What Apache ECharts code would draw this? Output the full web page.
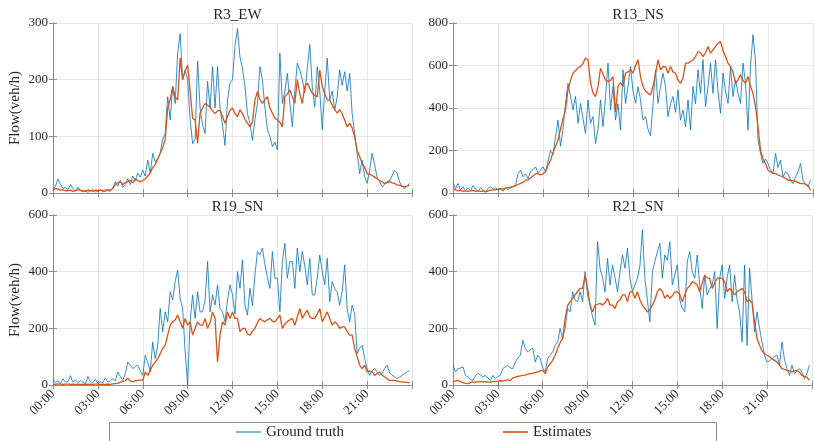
<!DOCTYPE html>
<html>
<head>
<meta charset="utf-8">
<script src="https://cdn.jsdelivr.net/npm/echarts@6/dist/echarts.min.js"></script>
<style>html,body{margin:0;padding:0;background:#fff}#c{width:814px;height:441px}</style>
</head>
<body>
<div id="c"></div>
<script>
// 10-minute samples, 00:00 .. 23:50 (144 values each)
const titles = ['R3_EW', 'R13_NS', 'R19_SN', 'R21_SN'];
const yMax = [300, 800, 600, 600];
const yStep = [100, 200, 200, 200];
const tickHours = [0, 3, 6, 9, 12, 15, 18, 21];

const gtR3 = [
5,12,25,15,8,10, 6,15,8,3,10,4, 2,5,1,4,6,2, 3,5,2,6,4,3,
8,20,12,22,10,15, 25,15,30,22,35,28, 40,30,58,35,70,55, 60,70,95,105,170,129,
188,158,247,281,200,217, 200,130,87,95,233,150, 120,105,197,150,223,150, 223,150,120,84,164,194,
200,260,290,240,220,188, 140,123,93,130,158,223, 200,150,112,100,82,90, 76,247,158,180,211,160,
117,180,229,217,200,176, 220,262,188,152,223,180, 112,180,238,164,180,146, 170,217,190,214,180,211,
140,105,70,34,58,30, 17,40,70,50,28,20, 11,15,20,22,30,40, 35,20,11,8,12,17];
const estR3 = [
5,8,7,5,6,4, 4,5,3,4,6,5, 4,3,5,4,3,5, 4,5,4,3,6,5,
8,15,18,20,15,18, 20,22,18,25,22,20, 22,25,30,35,45,50, 60,70,80,95,150,165,
188,170,164,238,200,215, 226,180,132,129,88,141, 150,158,155,152,145,140, 145,146,135,123,135,146,
150,140,135,147,140,130, 123,117,125,164,179,165, 158,165,170,150,141,132, 129,125,117,170,175,182,
170,158,200,175,158,188, 194,185,176,172,170,217, 188,175,164,164,155,147, 141,147,140,129,117,123,
115,99,75,64,52,46, 34,33,31,28,25,22, 20,17,18,20,18,17, 14,14,12,11,12,14];

const gtR13 = [
50,20,45,15,30,10, 25,12,35,18,8,25, 15,5,22,30,18,25, 15,20,8,25,15,30,
30,35,90,107,76,90, 68,100,110,123,95,107, 123,100,150,200,180,265, 343,220,300,422,516,454,
391,454,328,422,350,280, 438,328,360,233,300,438, 312,450,611,391,501,343, 420,296,580,422,500,595,
480,422,500,438,343,360, 300,270,420,580,422,500, 564,501,359,420,454,380, 485,343,391,312,438,296,
501,420,580,469,627,406, 500,611,469,627,480,375, 564,480,422,595,454,532, 470,422,611,520,296,600,
745,620,250,186,139,160, 139,110,91,186,120,154, 76,100,91,60,44,76, 100,139,60,40,28,60];
const estR13 = [
20,15,10,12,8,10, 8,10,12,8,10,8, 10,5,10,12,15,15, 18,20,18,22,25,25,
30,35,40,45,50,60, 62,70,80,90,92,85, 90,100,130,154,190,220, 249,300,350,391,485,530,
564,575,590,595,610,635, 627,520,470,454,501,587, 560,532,524,530,548,380, 501,520,501,564,570,580,
564,600,627,548,501,480, 469,461,501,560,627,580, 595,595,564,595,570,564, 532,516,540,611,611,620,
627,642,666,660,642,660, 690,658,674,690,705,713, 670,642,611,595,570,516, 532,556,530,516,548,501,
469,406,312,203,160,139, 107,100,91,91,85,80, 76,70,60,60,58,55, 50,44,44,42,35,13];

const gtR19 = [
20,8,15,5,22,10, 12,33,10,18,8,15, 10,5,30,12,8,20, 5,12,8,25,10,15,
22,15,46,30,16,40, 81,70,58,65,70,50, 34,105,80,46,152,93, 140,270,188,258,223,329,
300,365,406,306,270,120, 0,223,318,235,329,258, 258,300,436,258,318,282, 353,270,258,223,300,353,
318,250,400,341,441,282, 247,341,280,388,471,459, 483,424,380,341,471,377, 377,258,436,500,377,436,
436,341,483,400,471,420, 353,447,318,318,377,459, 400,353,447,294,365,340, 329,282,330,424,270,223,
282,250,110,130,140,93, 58,34,50,58,45,34, 40,58,70,45,34,30, 22,28,34,40,46,50];
const estR19 = [
3,2,4,3,2,3, 3,2,3,2,3,2, 2,3,2,3,2,3, 3,2,3,2,3,2,
4,5,6,10,12,15, 24,14,11,15,16,18, 16,46,34,50,70,81, 93,110,129,140,176,211,
223,230,247,223,200,235, 211,223,176,200,223,211, 211,235,200,220,258,235, 81,176,223,211,258,235,
258,235,235,188,200,200, 180,176,190,200,220,235, 228,223,230,235,225,223, 235,247,200,215,223,230,
235,211,240,270,235,250, 264,240,235,235,250,270, 223,240,258,235,211,223, 215,200,205,205,188,176,
176,129,100,70,58,70, 46,50,46,34,40,46, 35,28,22,16,16,16, 14,12,11,10,9,8];

const gtR21 = [
70,46,58,60,64,34, 28,20,16,34,40,36, 28,34,25,16,34,22, 30,34,58,64,70,60,
58,81,95,105,158,129, 117,125,129,81,105,93, 60,46,93,105,117,140, 152,200,164,200,270,258,
329,300,294,329,294,400, 318,282,240,211,506,412, 380,329,447,353,424,380, 329,400,459,412,483,377,
330,353,377,420,548,377, 300,223,400,436,470,500, 377,459,440,506,353,388, 424,300,270,258,436,471,
400,377,459,350,270,388, 318,340,353,400,200,377, 424,306,380,424,294,388, 300,258,152,424,140,412,
300,188,258,200,150,105, 81,85,93,100,105,70, 152,90,58,34,70,40, 50,58,45,22,40,70];
const estR21 = [
11,14,16,12,8,6, 5,8,11,10,11,12, 11,12,11,10,12,13, 13,15,14,16,18,16,
25,28,30,32,34,35, 38,40,42,44,46,50, 52,40,64,75,87,105, 129,150,164,235,280,294,
306,318,330,341,341,388, 341,282,258,282,285,288, 282,290,306,282,282,270, 294,300,318,318,294,329,
329,306,329,300,282,270, 258,265,282,300,329,341, 330,306,318,306,315,329, 329,320,294,320,341,350,
365,360,353,329,360,388, 377,377,341,360,377,377, 377,365,329,341,330,318, 329,335,341,329,294,300,
290,223,164,140,120,111, 105,100,93,87,81,70, 58,55,52,50,46,50, 52,45,34,30,28,16];

const groundTruth = [gtR3, gtR13, gtR19, gtR21];
const estimates = [estR3, estR13, estR19, estR21];

// sample time (hours) for each index
const sampleHours = gtR3.map((_, i) => i / 6);
const pairs = arr => arr.map((v, i) => [sampleHours[i], v]);

const FONT = 'Liberation Serif';
const TXT = '#262626';
const AX = '#8c8c8c';
const GRIDC = '#e6e6e6';
const BLUE = '#0072BD';
const ORANGE = '#D95319';

const grids = [
  {left: 53, top: 23, width: 359, height: 170},
  {left: 453, top: 23, width: 360, height: 170},
  {left: 53, top: 215, width: 359, height: 170},
  {left: 453, top: 215, width: 360, height: 170}
];

const pad = h => (h < 10 ? '0' : '') + h + ':00';

const xAxes = [], yAxes = [], series = [], titleArr = [];
for (let g = 0; g < 4; g++) {
  const bottomRow = g >= 2;
  xAxes.push({
    type: 'value', gridIndex: g, min: 0, max: 24, interval: 3,
    axisLine: {show: true, lineStyle: {color: AX, width: 1}},
    axisTick: {show: true, inside: true, length: 4, lineStyle: {color: AX}},
    splitLine: {show: true, lineStyle: {color: GRIDC, width: 1}},
    axisLabel: {
      show: bottomRow, rotate: 45, margin: 7,
      fontFamily: FONT, fontSize: 13, color: TXT,
      formatter: v => (tickHours.indexOf(v) >= 0 ? pad(v) : '')
    }
  });
  yAxes.push({
    type: 'value', gridIndex: g, min: 0, max: yMax[g], interval: yStep[g],
    name: (g % 2 === 0) ? 'Flow(veh/h)' : '',
    nameLocation: 'middle', nameGap: 30,
    nameTextStyle: {fontFamily: FONT, fontSize: 15, color: TXT},
    axisLine: {show: true, lineStyle: {color: AX, width: 1}},
    axisTick: {show: true, inside: true, length: 4, lineStyle: {color: AX}},
    splitLine: {show: true, lineStyle: {color: GRIDC, width: 1}},
    axisLabel: {fontFamily: FONT, fontSize: 13, color: TXT, margin: 5}
  });
  titleArr.push({
    text: titles[g],
    left: grids[g].left + grids[g].width / 2,
    top: grids[g].top - 20,
    textAlign: 'center',
    textStyle: {fontFamily: FONT, fontSize: 15, fontWeight: 'normal', color: TXT}
  });
}
// mirrored axes for the box ticks on top and right
for (let g = 0; g < 4; g++) {
  xAxes.push({
    type: 'value', gridIndex: g, min: 0, max: 24, interval: 3, position: 'top',
    axisLine: {show: true, lineStyle: {color: AX, width: 1}},
    axisTick: {show: true, inside: true, length: 4, lineStyle: {color: AX}},
    axisLabel: {show: false}, splitLine: {show: false}
  });
  yAxes.push({
    type: 'value', gridIndex: g, min: 0, max: yMax[g], interval: yStep[g], position: 'right',
    axisLine: {show: true, lineStyle: {color: AX, width: 1}},
    axisTick: {show: true, inside: true, length: 4, lineStyle: {color: AX}},
    axisLabel: {show: false}, splitLine: {show: false}
  });
}
for (let g = 0; g < 4; g++) {
  series.push({
    name: 'Ground truth', type: 'line', xAxisIndex: g, yAxisIndex: g,
    data: pairs(groundTruth[g]), symbol: 'none', smooth: false,
    lineStyle: {color: BLUE, width: 0.8}, itemStyle: {color: BLUE}, z: 2
  });
}
for (let g = 0; g < 4; g++) {
  series.push({
    name: 'Estimates', type: 'line', xAxisIndex: g, yAxisIndex: g,
    data: pairs(estimates[g]), symbol: 'none', smooth: false,
    lineStyle: {color: ORANGE, width: 1.3}, itemStyle: {color: ORANGE}, z: 3
  });
}

const chart = echarts.init(document.getElementById('c'), null, {renderer: 'canvas'});
chart.setOption({
  animation: false,
  backgroundColor: '#fff',
  title: titleArr,
  grid: grids,
  xAxis: xAxes,
  yAxis: yAxes,
  graphic: [{
    type: 'rect', z: -1,
    shape: {x: 109.5, y: 422.5, width: 607, height: 30},
    style: {fill: '#fff', stroke: AX, lineWidth: 1}
  }],
  legend: [
    {data: [{name: 'Ground truth', icon: 'rect'}], left: 236, top: 424.5, padding: 0,
     itemWidth: 25, itemHeight: 1, itemGap: 5,
     textStyle: {fontFamily: FONT, fontSize: 15, color: TXT}},
    {data: [{name: 'Estimates', icon: 'rect'}], left: 503, top: 424.5, padding: 0,
     itemWidth: 25, itemHeight: 1.6, itemGap: 5,
     textStyle: {fontFamily: FONT, fontSize: 15, color: TXT}}
  ],
  series: series
});
</script>
</body>
</html>
